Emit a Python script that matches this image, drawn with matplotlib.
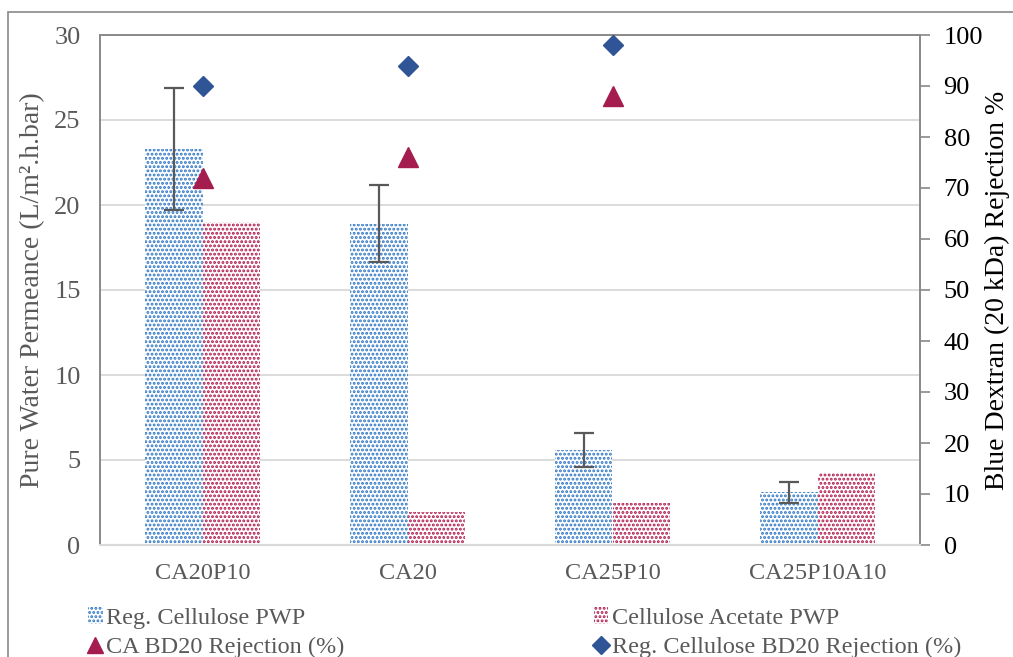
import numpy as np
import matplotlib
matplotlib.use("Agg")
import matplotlib.pyplot as plt
from matplotlib.patches import Patch, Rectangle
from matplotlib.lines import Line2D

categories = ['CA20P10', 'CA20', 'CA25P10', 'CA25P10A10']
rc_pwp = [23.3, 18.9, 5.6, 3.1]
rc_err = [3.6, 2.25, 1.0, 0.63]
ca_pwp = [19.0, 1.95, 2.5, 4.25]
ca_rej = [72, 76, 88, np.nan]
rc_rej = [90, 94, 98, np.nan]

BLUE = '#2E75C4'
RED = '#B0184B'
TRI = '#A51C4E'
DIA = '#2F5597'
GREY = '#595959'

plt.rcParams['font.family'] = ['Liberation Serif', 'DejaVu Serif']
plt.rcParams['hatch.linewidth'] = 1.4

fig = plt.figure(figsize=(10.13, 6.57), dpi=100)
ax = fig.add_axes([100/1013, 1-545/657, 820/1013, 510/657])
ax2 = ax.twinx()

x = np.arange(len(categories))
w = 0.28
ax.bar(x - w/2, rc_pwp, w, facecolor='white', edgecolor=BLUE, hatch='....', linewidth=0, zorder=2)
ax.bar(x + w/2, ca_pwp, w, facecolor='white', edgecolor=RED, hatch='....', linewidth=0, zorder=2)
ax.errorbar(x - w/2, rc_pwp, yerr=rc_err, fmt='none', ecolor=GREY, elinewidth=1.6, capsize=7, capthick=1.6, zorder=3)

ax2.plot(x, ca_rej, linestyle='none', marker='^', markersize=14, color=TRI, zorder=4)
ax2.plot(x, rc_rej, linestyle='none', marker='D', markersize=10, color=DIA, zorder=4)

ax.set_xlim(-0.5, 3.5)
ax.set_ylim(0, 30)
ax.set_yticks(range(0, 31, 5))
ax2.set_ylim(0, 100)
ax2.set_yticks(range(0, 101, 10))
ax.set_xticks(x)
ax.set_xticklabels(categories)
ax.tick_params(axis='x', length=0, pad=13, labelsize=17.5, labelcolor=GREY)
ax.tick_params(axis='y', length=0, pad=14, labelsize=19, labelcolor=GREY)
ax2.tick_params(axis='y', length=7, width=1.2, color='#898989', pad=10, labelsize=19, labelcolor='black')

ax.yaxis.grid(True, color='#D9D9D9', linewidth=1.3, zorder=0)
ax.set_axisbelow(True)
for a in (ax, ax2):
    for s in ['left', 'top', 'right']:
        a.spines[s].set_color('#898989')
        a.spines[s].set_linewidth(1.2)
    a.spines['bottom'].set_color('#D9D9D9')
    a.spines['bottom'].set_linewidth(1.5)

fig.text(33/1013, 1-290/657, 'Pure Water Permeance (L/m².h.bar)', rotation=90,
         ha='center', va='center', fontsize=20, color=GREY)
fig.text(997/1013, 1-290/657, 'Blue Dextran (20 kDa) Rejection %', rotation=90,
         ha='center', va='center', fontsize=20, color='black')

handles = [
    Patch(facecolor='white', edgecolor=BLUE, hatch='....', linewidth=0),
    Line2D([], [], linestyle='none', marker='^', markersize=12, color=TRI),
    Patch(facecolor='white', edgecolor=RED, hatch='....', linewidth=0),
    Line2D([], [], linestyle='none', marker='D', markersize=9, color=DIA),
]
labels = ['Reg. Cellulose PWP', 'CA BD20 Rejection (%)', 'Cellulose Acetate PWP', 'Reg. Cellulose BD20 Rejection (%)']
leg = fig.legend(handles, labels, ncol=2, loc='upper left', bbox_to_anchor=(88/1013, 1-607/657),
                 frameon=False, fontsize=17.5, handlelength=0.6, handleheight=0.7, handletextpad=0.15,
                 columnspacing=10.25, labelspacing=0.3, borderaxespad=0, borderpad=0)
for t in leg.get_texts():
    t.set_color(GREY)

fig.patches.append(Rectangle((8/1013, -0.1), 1.2, 1.1 - 12/657, transform=fig.transFigure,
                             fill=False, edgecolor='#898989', linewidth=1.2))

fig.savefig('out.png', dpi=100)
